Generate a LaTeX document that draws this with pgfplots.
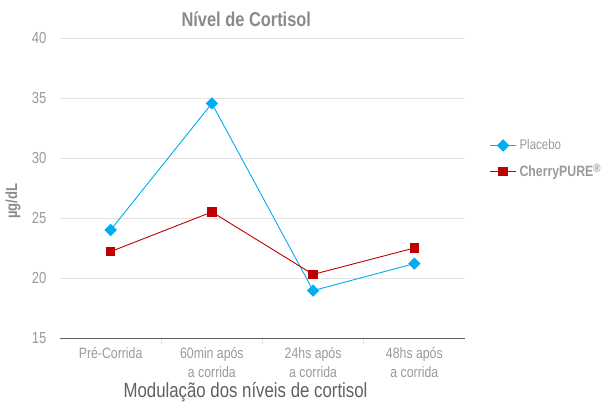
\documentclass[border=0pt]{standalone}
\usepackage{fontspec}
\setmainfont{Liberation Sans}[FakeStretch=0.82]
\usepackage{pgfplots}
\pgfplotsset{compat=1.18}
\definecolor{placebo}{HTML}{00AEEF}
\definecolor{cherry}{HTML}{C00000}
\definecolor{gridc}{HTML}{E3E3E3}
\definecolor{tickc}{HTML}{9A9A9A}
\definecolor{titlec}{HTML}{8A8A8A}
\definecolor{labc}{HTML}{606060}
\begin{document}
\begin{tikzpicture}[x=1pt,y=1pt]
\useasboundingbox (0,0) rectangle (606,403);
\begin{axis}[
  at={(60pt,65pt)}, anchor=south west,
  scale only axis, width=405pt, height=300pt,
  xmin=-0.5, xmax=3.5, ymin=15, ymax=40,
  ytick={15,20,...,40},
  xtick={0,1,2,3},
  xticklabels={Pré-Corrida,60min após\\a corrida,24hs após\\a corrida,48hs após\\a corrida},
  xticklabel style={align=center, text=tickc, font=\fontsize{15}{19}\selectfont},
  yticklabel style={text=tickc, font=\fontsize{16}{16}\selectfont, xshift=-4pt},
  /pgf/number format/assume math mode=true,
  minor xtick={0.5,1.5,2.5},
  xtick style={draw=none},
  minor x tick style={draw=gridc, line width=0.8pt},
  minor tick length=6pt,
  xtick pos=bottom,
  ytick style={draw=none},
  ymajorgrids, grid style={gridc, line width=0.8pt},
  axis x line*=bottom, axis y line*=left,
  y axis line style={draw=none},
  x axis line style={draw=labc, line width=0.8pt, -},
  major tick length=6pt,
  tick align=outside,
  title={\textbf{Nível de Cortisol}},
  title style={at={(0.46,1)}, anchor=south, yshift=2pt, text=titlec, font=\fontsize{20}{20}\selectfont},
  xlabel={Modulação dos níveis de cortisol},
  xlabel style={text=labc, font=\fontsize{20.5}{20.5}\selectfont, yshift=2pt, xshift=-17pt},
  legend style={at={(1.053,0.675)}, anchor=north west, draw=none, fill=none,
    font=\fontsize{14}{14}\selectfont, text=tickc, row sep=9pt,
    nodes={inner xsep=3pt}},
  legend image code/.code={
    \draw[#1, mark repeat=2, mark phase=2] plot coordinates {(0pt,0pt) (13pt,0pt) (26pt,0pt)};},
  legend cell align=left,
  clip=false,
]
\addplot[placebo, line width=0.9pt, mark=square*, mark size=3.9pt, mark options={fill=placebo, rotate=45}]
  coordinates {(0,24) (1,34.55) (2,18.95) (3,21.2)};
\addlegendentry{Placebo}
\addplot[cherry, line width=0.9pt, mark=square*, mark size=4.3pt, mark options={fill=cherry}]
  coordinates {(0,22.2) (1,25.5) (2,20.3) (3,22.5)};
\addlegendentry{\textbf{\fontsize{15}{15}\selectfont CherryPURE\raisebox{4pt}{\fontsize{12}{12}\selectfont ®}}}
\end{axis}
\node[rotate=90, text=titlec, font=\bfseries\fontsize{16}{16}\selectfont] at (13,202) {µg/dL};
\end{tikzpicture}
\end{document}
